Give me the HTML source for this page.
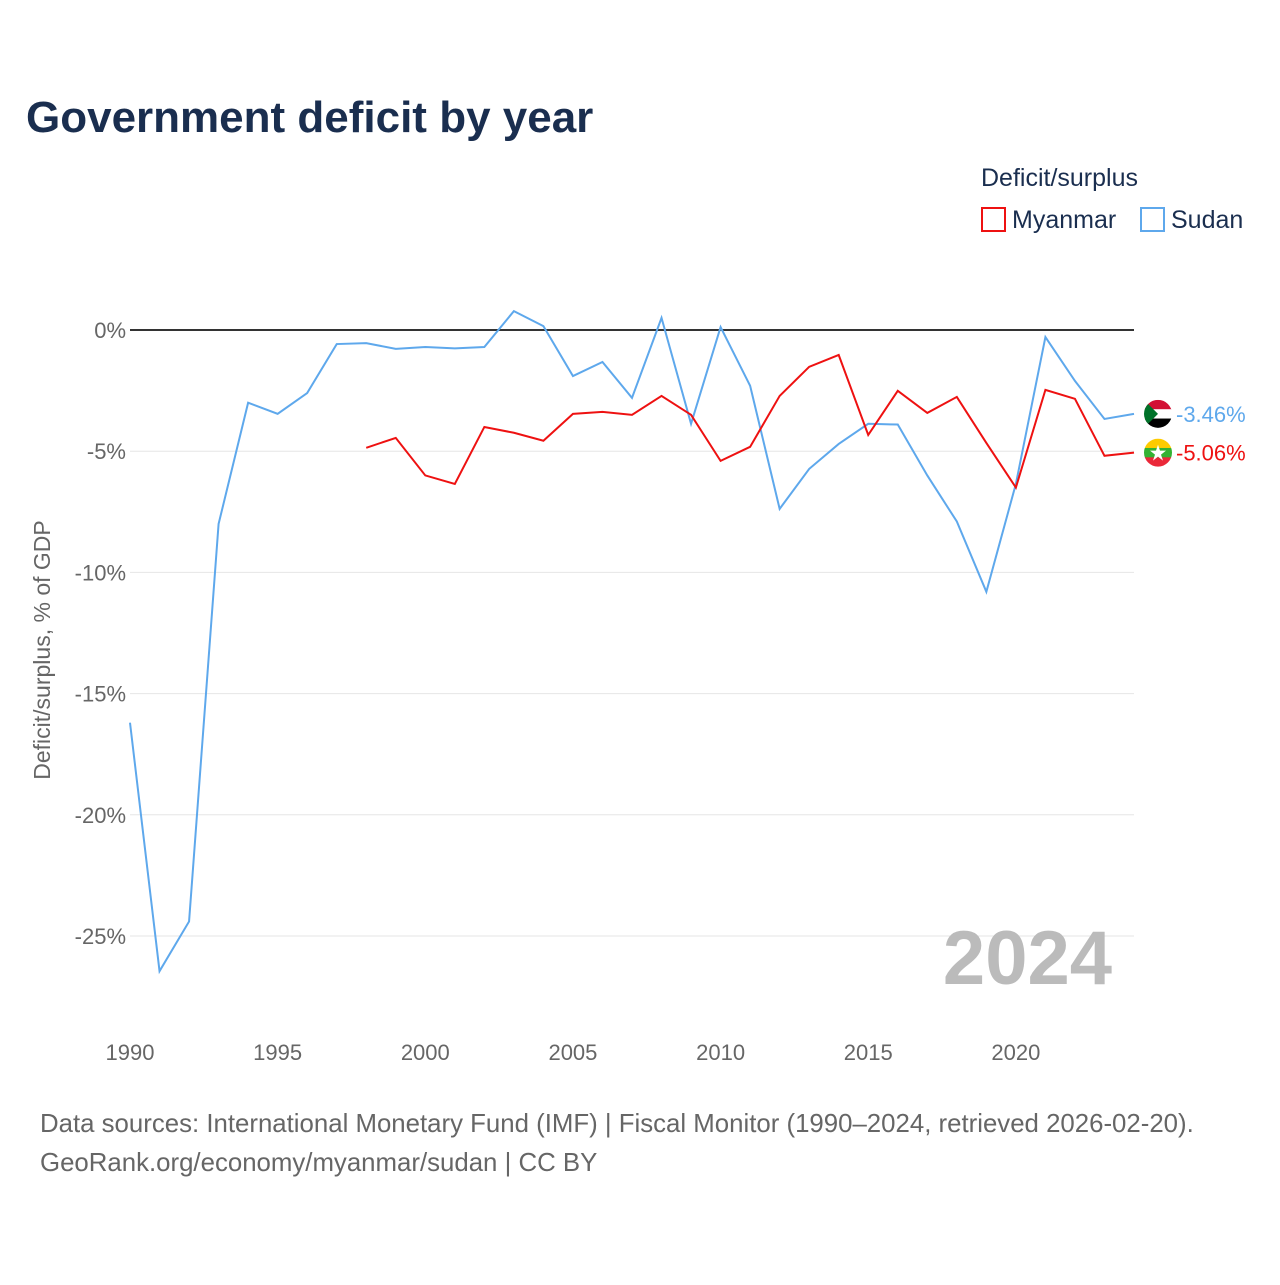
<!DOCTYPE html>
<html><head><meta charset="utf-8"><style>
body{margin:0;background:#fff;font-family:"Liberation Sans",sans-serif}
svg text{font-family:"Liberation Sans",sans-serif}
</style></head><body>
<svg id="c" width="1280" height="1280" xmlns="http://www.w3.org/2000/svg">
<defs>
<clipPath id="cs"><circle cx="0" cy="0" r="14"/></clipPath>
</defs>
<text x="26" y="132" font-size="44" font-weight="bold" fill="#1a2e4f">Government deficit by year</text>
<text x="981" y="186" font-size="25" fill="#1a2e4f">Deficit/surplus</text>
<g><rect x="982" y="208" width="23" height="23" fill="none" stroke="#ee1111" stroke-width="2"/><text x="1012" y="228" font-size="25" fill="#1a2e4f">Myanmar</text></g>
<g><rect x="1141" y="208" width="23" height="23" fill="none" stroke="#5ea8ec" stroke-width="2"/><text x="1171" y="228" font-size="25" fill="#1a2e4f">Sudan</text></g>
<text transform="translate(50,650) rotate(-90)" text-anchor="middle" font-size="23" fill="#666">Deficit/surplus, % of GDP</text>
<g id="grid"></g>
<g id="xt"></g>
<text x="1112" y="984" text-anchor="end" font-size="76" font-weight="bold" fill="#bbb">2024</text>
<g id="series"></g>
<text x="40" y="1132" font-size="25.8" fill="#666">Data sources: International Monetary Fund (IMF) | Fiscal Monitor (1990–2024, retrieved 2026-02-20).</text>
<text x="40" y="1171" font-size="25.8" fill="#666">GeoRank.org/economy/myanmar/sudan | CC BY</text>
</svg>
<script>
const years=[];for(let y=1990;y<=2024;y++)years.push(y);
const sudan=[-16.2,-26.45,-24.4,-8.0,-3.0,-3.46,-2.6,-0.58,-0.54,-0.78,-0.7,-0.76,-0.7,0.78,0.16,-1.9,-1.32,-2.8,0.5,-3.87,0.12,-2.3,-7.38,-5.73,-4.7,-3.87,-3.9,-6.0,-7.9,-10.8,-6.35,-0.29,-2.1,-3.67,-3.46];
const myanmarYears=[1998,1999,2000,2001,2002,2003,2004,2005,2006,2007,2008,2009,2010,2011,2012,2013,2014,2015,2016,2017,2018,2019,2020,2021,2022,2023,2024];
const myanmar=[-4.86,-4.45,-6.0,-6.35,-4.0,-4.24,-4.57,-3.46,-3.38,-3.5,-2.72,-3.5,-5.4,-4.82,-2.72,-1.52,-1.03,-4.33,-2.51,-3.42,-2.76,-4.66,-6.5,-2.47,-2.84,-5.19,-5.06];
const yTicks=[0,-5,-10,-15,-20,-25];
const xTicks=[1990,1995,2000,2005,2010,2015,2020];
const X=y=>130+(y-1990)*(1134-130)/34;
const Y=v=>330-v*(936-330)/25;
const NS='http://www.w3.org/2000/svg';
function mk(t,a,p){const e=document.createElementNS(NS,t);for(const k in a)e.setAttribute(k,a[k]);p.appendChild(e);return e;}
const g=document.getElementById('grid');
yTicks.forEach(v=>{
 const l=mk('line',{x1:130,x2:1134,y1:Y(v),y2:Y(v),stroke:v===0?'#333':'#e6e6e6','stroke-width':v===0?2:1},g);
 
 
 const t=mk('text',{x:126,y:Y(v)+8,'text-anchor':'end','font-size':22,fill:'#666'},g);
 
 
 t.textContent=v+'%';
});
const xt=document.getElementById('xt');
xTicks.forEach(v=>{
 const t=mk('text',{x:X(v),y:1060,'text-anchor':'middle','font-size':22,fill:'#666'},xt);
 
 
 t.textContent=v;
});
const s=document.getElementById('series');
function flag(cy,stripes,name,extra){
 const fg=mk('g',{transform:'translate(1158,'+cy+')','clip-path':'url(#cs)'},s);
 
 
 stripes.forEach((c,i)=>mk('rect',{x:-14,y:-14+i*28/3,width:28,height:28/3+0.5,fill:c},fg));
 extra(fg);
}
function line(xs,vs,col,name,stripes,extra){
 const p=mk('path',{d:xs.map((x,i)=>(i?'L':'M')+X(x)+','+Y(vs[i])).join(''),fill:'none',stroke:col,'stroke-width':2},s);
 
 
 const v=vs[vs.length-1],cy=Y(v);
 flag(cy,stripes,name+'-flag',extra);
 const t=mk('text',{x:1176,y:cy+8,'font-size':22,fill:col},s);
 
 
 t.textContent=v.toFixed(2)+'%';
}
line(years,sudan,'#5ea8ec','sudan-line',['#d21034','#ffffff','#000000'],fg=>mk('polygon',{points:'-14,-14 0,0 -14,14',fill:'#007229'},fg));
line(myanmarYears,myanmar,'#ee1111','myanmar-line',['#fecb00','#34b233','#ea2839'],fg=>mk('polygon',{points:'0,-8 2,-2 8,-2 3,2 5,8 0,4 -5,8 -3,2 -8,-2 -2,-2',fill:'#fff'},fg));
</script>
</body></html>
